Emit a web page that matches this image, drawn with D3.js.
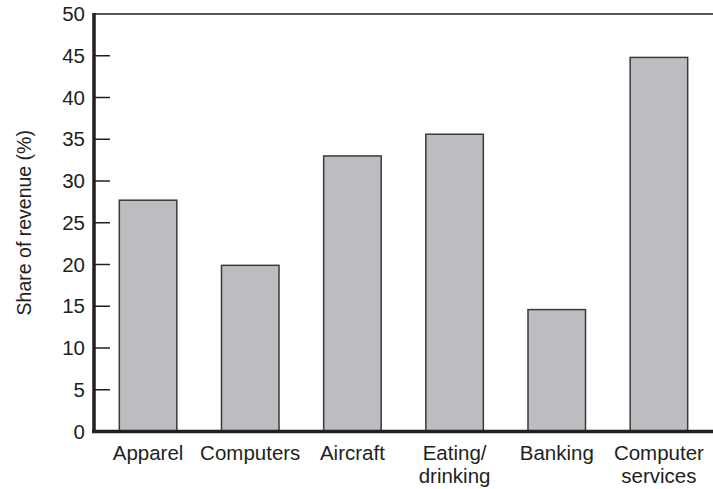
<!DOCTYPE html>
<html>
<head>
<meta charset="utf-8">
<script src="https://cdn.jsdelivr.net/npm/d3@7/dist/d3.min.js"></script>
<style>
  html, body { margin: 0; padding: 0; background: #fff; }
  svg { display: block; }
  text { font-family: "Liberation Sans", Arial, Helvetica, sans-serif; fill: #231f20; }
</style>
</head>
<body>
<svg id="chart" width="713" height="489"></svg>
<script>
// Share of revenue by industry
const categories = ["Apparel", "Computers", "Aircraft", "Eating/\ndrinking", "Banking", "Computer\nservices"];
const shares = [27.7, 19.9, 33.0, 35.6, 14.6, 44.8];
const yTicks = [0, 5, 10, 15, 20, 25, 30, 35, 40, 45, 50];

(function () {
  const svg = d3.select("#chart");
  const plotLeft = 94, plotTop = 14, plotBottom = 431.5, plotRight = 713;
  const fontSize = 20.5;

  const x = d3.scaleBand()
    .domain(categories)
    .range([97, 710])
    .paddingInner(0.437)
    .paddingOuter(0.2185);

  const y = d3.scaleLinear().domain([0, 50]).range([plotBottom, plotTop]);

  // top frame line
  svg.append("line")
    .attr("x1", plotLeft).attr("x2", plotRight)
    .attr("y1", y(50)).attr("y2", y(50))
    .attr("stroke", "#231f20").attr("stroke-width", 1.5);

  // bars
  svg.append("g").selectAll("rect")
    .data(categories)
    .join("rect")
    .attr("x", d => x(d))
    .attr("y", (d, i) => y(shares[i]))
    .attr("width", x.bandwidth())
    .attr("height", (d, i) => y(0) - y(shares[i]))
    .attr("fill", "#bcbdc1")
    .attr("stroke", "#3a3a3c")
    .attr("stroke-width", 1.5);

  // y axis labels
  const yAxis = d3.axisLeft(y).tickValues(yTicks).tickSize(0).tickPadding(9);
  const gy = svg.append("g").attr("transform", `translate(${plotLeft},0)`).call(yAxis);
  gy.select(".domain").remove();
  gy.selectAll("text").attr("font-size", fontSize).attr("font-family", null).style("fill", "#231f20");

  // inward tick marks
  svg.append("g").selectAll("line")
    .data(yTicks.filter(t => t > 0 && t < 50))
    .join("line")
    .attr("x1", plotLeft).attr("x2", plotLeft + 16)
    .attr("y1", d => y(d)).attr("y2", d => y(d))
    .attr("stroke", "#231f20").attr("stroke-width", 1.5);

  // axis lines
  svg.append("line")
    .attr("x1", plotLeft).attr("x2", plotLeft)
    .attr("y1", y(50) - 1).attr("y2", plotBottom + 1.5)
    .attr("stroke", "#231f20").attr("stroke-width", 3.5);
  svg.append("line")
    .attr("x1", plotLeft - 2).attr("x2", plotRight)
    .attr("y1", plotBottom).attr("y2", plotBottom)
    .attr("stroke", "#231f20").attr("stroke-width", 3.5);

  // category labels
  const gx = svg.append("g");
  categories.forEach(c => {
    const cx = x(c) + x.bandwidth() / 2;
    const t = gx.append("text")
      .attr("text-anchor", "middle")
      .attr("font-size", fontSize)
      .attr("x", cx)
      .attr("y", 460);
    c.split("\n").forEach((ln, j) => {
      t.append("tspan")
        .attr("x", cx)
        .attr("dy", j === 0 ? 0 : 22.5)
        .text(ln);
    });
  });

  // y axis title
  svg.append("text")
    .attr("transform", `translate(31, ${(plotTop + plotBottom) / 2}) rotate(-90)`)
    .attr("text-anchor", "middle")
    .attr("font-size", 19.5)
    .text("Share of revenue (%)");
})();
</script>
</body>
</html>
